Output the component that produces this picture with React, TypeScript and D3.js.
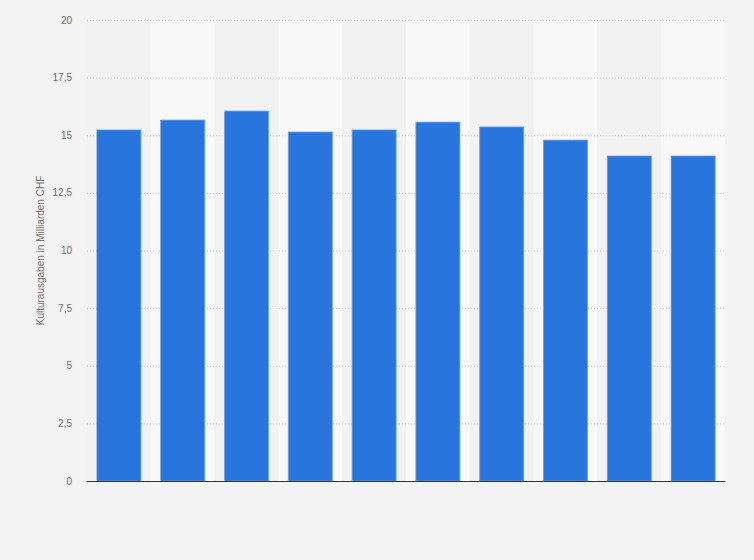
import * as d3 from 'd3';
import React, { useRef, useEffect } from 'react';

// categories are not labelled in the chart, kept only as keys
const categories = ['1', '2', '3', '4', '5', '6', '7', '8', '9', '10'];
const values = [15.23, 15.66, 16.05, 15.14, 15.23, 15.57, 15.36, 14.79, 14.1, 14.1];
const yTicks = [0, 2.5, 5, 7.5, 10, 12.5, 15, 17.5, 20];
const yTitle = 'Kulturausgaben in Milliarden CHF';

function App() {
  const ref = useRef(null);

  useEffect(() => {
    const width = 754;
    const height = 560;
    const margin = { top: 20, right: 29, bottom: 79, left: 87 };

    const svg = d3.select(ref.current);
    svg.selectAll('*').remove();

    svg.append('rect')
      .attr('width', width)
      .attr('height', height)
      .attr('fill', '#f3f3f3');

    const x = d3.scaleBand<string>()
      .domain(categories)
      .range([margin.left, width - margin.right])
      .paddingInner(0.31)
      .paddingOuter(0.155);

    const y = d3.scaleLinear()
      .domain([0, 20])
      .range([height - margin.bottom, margin.top]);

    const step = x.step();
    const bandStart = (c: string) => (x(c) || 0) - step * x.paddingOuter();

    // alternating column stripes
    svg.append('g')
      .selectAll('rect')
      .data(categories)
      .join('rect')
      .attr('x', (d) => bandStart(d))
      .attr('y', margin.top)
      .attr('width', step)
      .attr('height', y(0) - margin.top)
      .attr('fill', (d, i) => (i % 2 === 1 ? '#f8f8f8' : '#f2f2f2'));

    // grid
    svg.append('g')
      .selectAll('line')
      .data(yTicks.filter((t) => t > 0))
      .join('line')
      .attr('x1', margin.left)
      .attr('x2', width - margin.right)
      .attr('y1', (d) => y(d) + 0.5)
      .attr('y2', (d) => y(d) + 0.5)
      .attr('stroke', '#d2d2d2')
      .attr('stroke-width', 1)
      .attr('stroke-dasharray', '1,2');

    // tick labels
    const fmt = (v: number) => String(v).replace('.', ',');
    svg.append('g')
      .selectAll('text')
      .data(yTicks)
      .join('text')
      .attr('x', 72)
      .attr('y', (d) => y(d))
      .attr('dy', '0.35em')
      .attr('text-anchor', 'end')
      .attr('font-family', '"Liberation Sans", Arial, sans-serif')
      .attr('font-size', 10)
      .attr('fill', '#707070')
      .text((d) => fmt(d));

    // bars
    svg.append('g')
      .selectAll('rect')
      .data(values)
      .join('rect')
      .attr('x', (d, i) => x(categories[i]) || 0)
      .attr('y', (d) => y(d))
      .attr('width', x.bandwidth())
      .attr('height', (d) => y(0) - y(d))
      .attr('fill', '#2876dd')
      .attr('stroke', '#6a9fe8')
      .attr('stroke-width', 0.8);

    // zero line
    svg.append('line')
      .attr('x1', margin.left)
      .attr('x2', width - margin.right)
      .attr('y1', y(0) + 0.5)
      .attr('y2', y(0) + 0.5)
      .attr('stroke', '#333333')
      .attr('stroke-width', 1);

    // y title
    svg.append('text')
      .attr('transform', `translate(40,${(y(0) + y(20)) / 2}) rotate(-90)`)
      .attr('text-anchor', 'middle')
      .attr('dy', '0.35em')
      .attr('font-family', '"Liberation Sans", Arial, sans-serif')
      .attr('font-size', 10)
      .attr('fill', '#707070')
      .text(yTitle);
  }, []);

  return (
    <svg
      ref={ref}
      width={754}
      height={560}
      style={{ position: 'absolute', left: 0, top: 0 }}
    />
  );
}

export default App;
